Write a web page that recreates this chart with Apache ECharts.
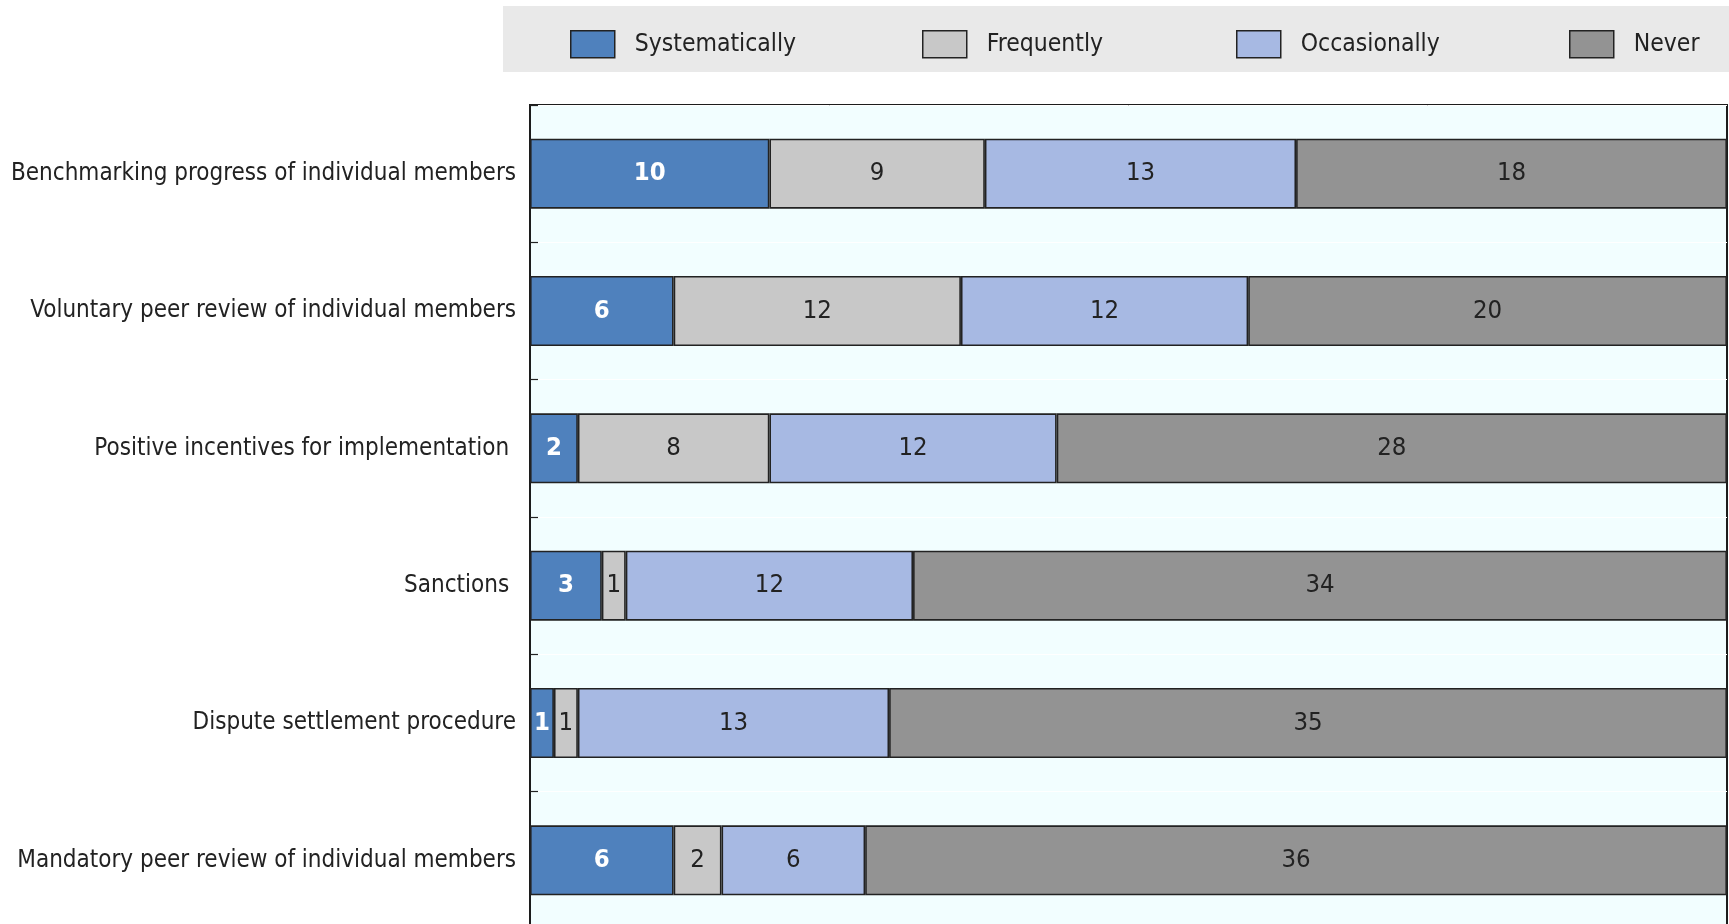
<!DOCTYPE html>
<html>
<head>
<meta charset="utf-8">
<title>Use of implementation mechanisms</title>
<script src="https://cdn.jsdelivr.net/npm/echarts@6/dist/echarts.min.js"></script>
<style>
  html, body { margin: 0; padding: 0; background: #ffffff; }
  #chart { width: 1729px; height: 924px; }
</style>
</head>
<body>
<div id="chart"></div>
<script>
// Mechanisms (top to bottom)
const categories = [
  'Benchmarking progress of individual members',
  'Voluntary peer review of individual members',
  'Positive incentives for implementation ',
  'Sanctions ',
  'Dispute settlement procedure',
  'Mandatory peer review of individual members'
];

// Number of respondents per frequency
const systematically = [10, 6, 2, 3, 1, 6];
const frequently     = [9, 12, 8, 1, 1, 2];
const occasionally   = [13, 12, 12, 12, 13, 6];
const never          = [18, 20, 28, 34, 35, 36];

const seriesNames = ['Systematically', 'Frequently', 'Occasionally', 'Never'];
const seriesData = [systematically, frequently, occasionally, never];
const seriesColors = ['#4f81bd', '#c8c8c8', '#a7b9e3', '#939393'];

const FONT = "'Liberation Sans Narrow', 'Arial Narrow', 'DejaVu Sans Condensed', sans-serif";
const INK = '#222222';

const chart = echarts.init(document.getElementById('chart'), null, { renderer: 'canvas' });

const legendLefts = [570, 922, 1236, 1569];

const option = {
  backgroundColor: '#ffffff',
  animation: false,
  textStyle: { fontFamily: FONT },
  graphic: [{
    type: 'rect',
    left: 503, top: 6,
    shape: { width: 1226, height: 66 },
    style: { fill: '#e9e9e9' },
    z: -1
  }],
  legend: seriesNames.map((name, i) => ({
    data: [name],
    left: legendLefts[i],
    top: 30,
    itemWidth: 44,
    itemHeight: 27,
    padding: 0,
    selectedMode: false,
    icon: 'rect',
    itemStyle: { borderColor: INK, borderWidth: 1.5 },
    textStyle: {
      fontFamily: FONT, fontSize: 24.5, color: INK,
      padding: [3, 0, 0, 15]
    }
  })),
  grid: {
    left: 530, top: 105, right: 2, height: 824,
    show: true,
    backgroundColor: '#f2feff',
    borderColor: '#1c1c1c',
    borderWidth: 2,
    containLabel: false,
    outerBoundsMode: 'none'
  },
  xAxis: {
    type: 'value', min: 0, max: 50, show: false
  },
  yAxis: {
    type: 'category',
    inverse: true,
    data: categories,
    axisLine: { show: true, lineStyle: { color: '#1c1c1c', width: 2 } },
    axisTick: { show: true, inside: true, length: 8, lineStyle: { color: INK, width: 1.2 } },
    splitLine: { show: true, lineStyle: { color: '#ffffff', width: 1 } },
    axisLabel: {
      margin: 14,
      fontFamily: FONT, fontSize: 24, color: INK
    }
  },
  series: seriesNames.map((name, i) => ({
    name: name,
    type: 'bar',
    stack: 'total',
    barWidth: '51%',
    data: seriesData[i],
    itemStyle: { color: seriesColors[i], borderColor: INK, borderWidth: 1.6 },
    label: {
      show: true,
      position: 'inside',
      fontFamily: FONT,
      fontSize: 25.5,
      color: i === 0 ? '#ffffff' : INK,
      fontWeight: i === 0 ? 'bold' : 'normal'
    }
  }))
};

chart.setOption(option);
</script>
</body>
</html>
